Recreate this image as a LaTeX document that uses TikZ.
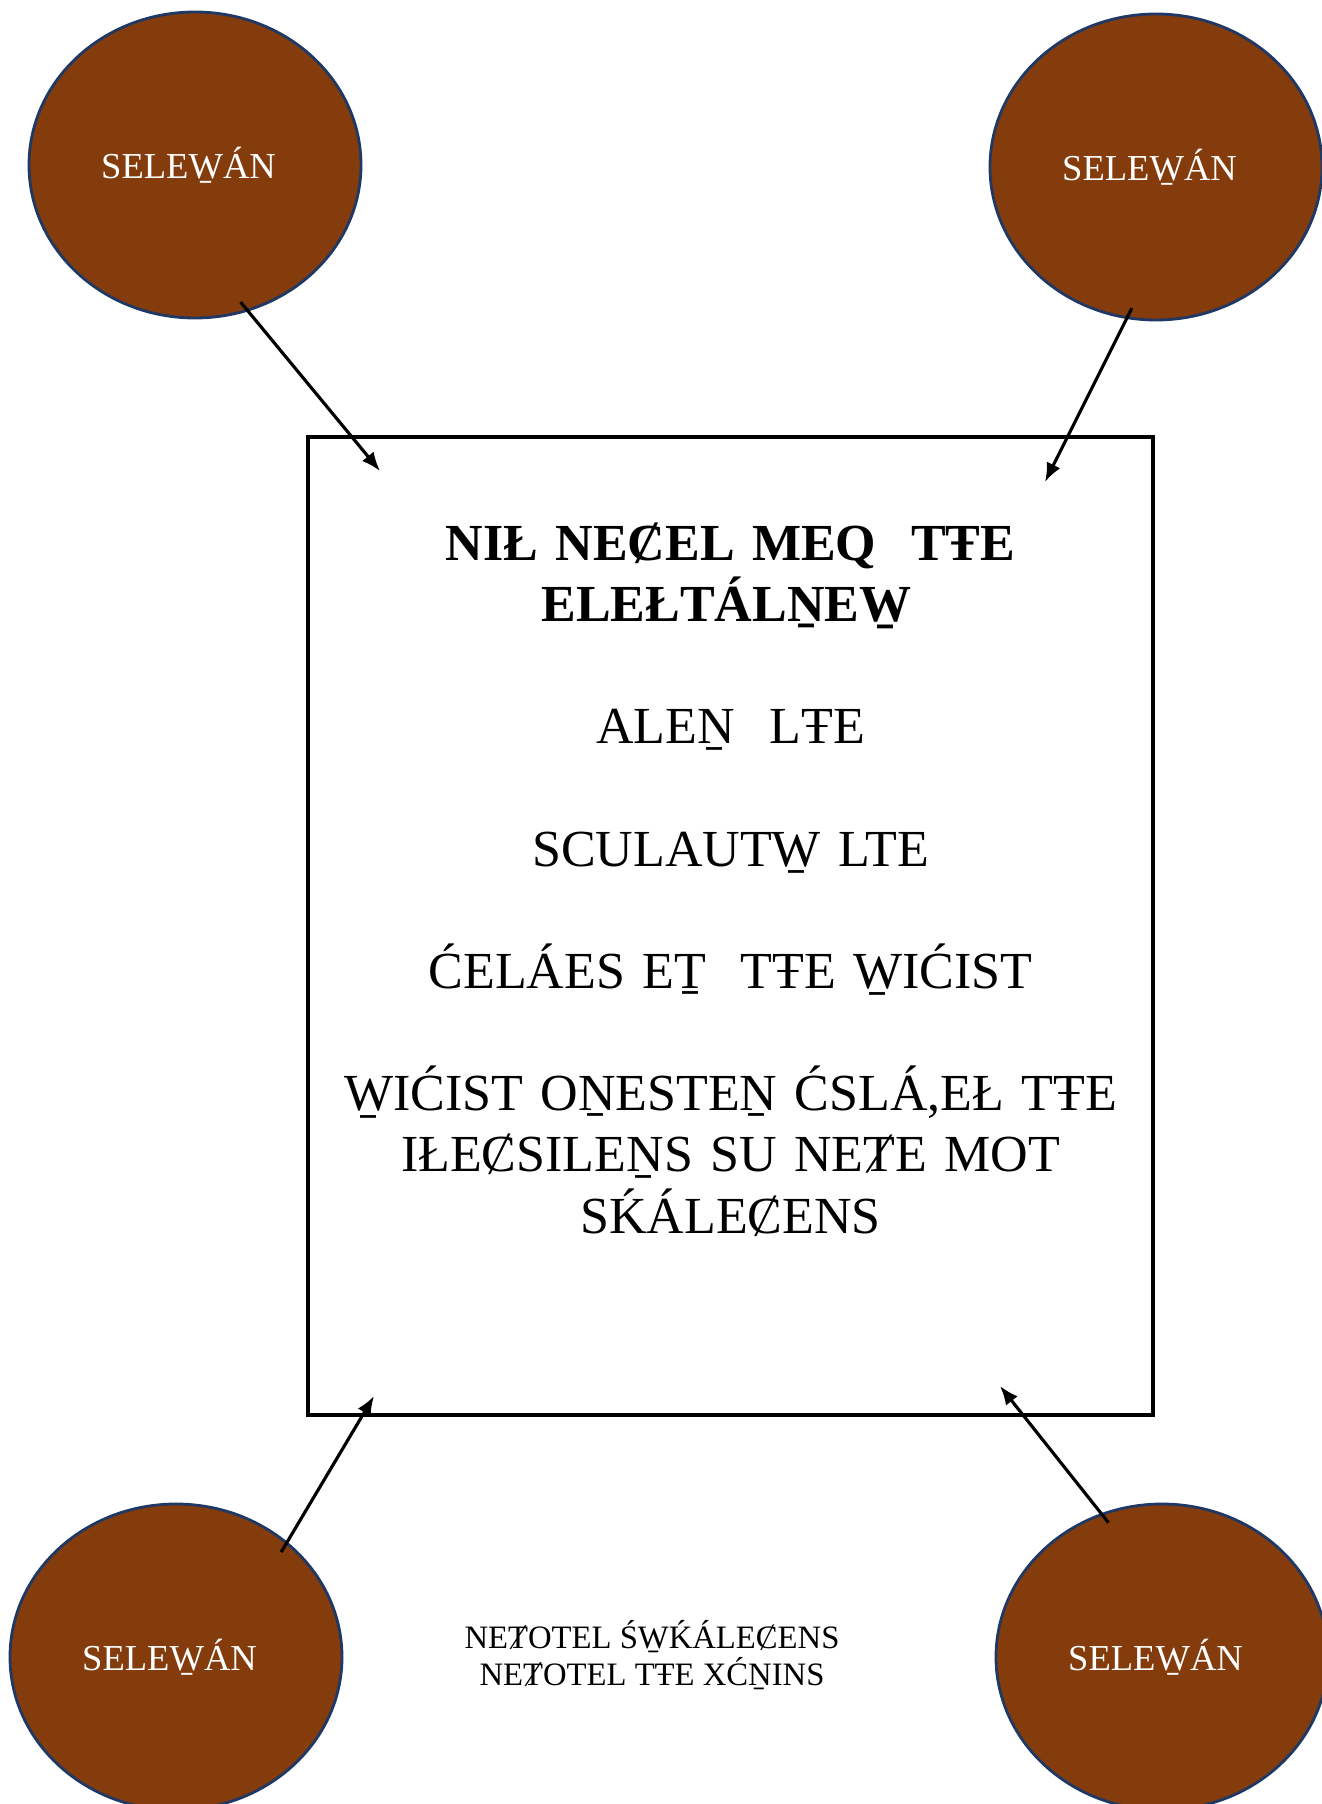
\documentclass[tikz,border=0pt]{standalone}
\usepackage{fontspec}
\setmainfont{Liberation Serif}
\usetikzlibrary{shapes.geometric,arrows.meta,positioning,calc}
\definecolor{selbrown}{HTML}{843C0C}
\definecolor{selnavy}{HTML}{1F3864}
\newcommand{\selname}{SELEW̠ÁN\hspace*{1.3mm}}

\begin{document}
\begin{tikzpicture}[sel/.style={ellipse,draw=selnavy,line width=0.8pt,fill=selbrown,text=white,inner sep=0pt,minimum width=3.32cm,minimum height=3.06cm,font=\fontsize{10.4}{12.6}\selectfont},
board/.style={draw,line width=1.1pt,minimum width=8.45cm,minimum height=9.78cm,inner sep=0pt},
arr/.style={-{Latex[length=1.9mm,width=1.5mm]},line width=0.9pt,shorten <=-1.2mm}]
\useasboundingbox (0,0) rectangle (13.22,-18.04);
\node[sel] (tl) at (1.95,-1.65) {\selname};
\node[sel] (tr) at (11.56,-1.67) {\selname};
\node[sel] (bl) at (1.76,-16.57) {\selname};
\node[sel] (br) at (11.62,-16.57) {\selname};
\node[board] (box) at (7.305,-9.26) {};
\node[below=0.87cm of box.north,text width=8.2cm,align=center,inner sep=0pt,font=\fontsize{14.8}{17.4}\selectfont] (txt)
{\textbf{NIŁ NEȻEL MEQ\ \ TŦE\\ ELEŁTÁLN̠EW̠}\\[17.4pt]
ALEN̠\ \ LŦE\\[17.4pt]
SCULAUTW̠ LTE\\[17.4pt]
ĆELÁES ET̠\ \ TŦE W̠IĆIST\\[17.4pt]
W̠IĆIST ON̠ESTEN̠ ĆSLÁ,EŁ TŦE\\ IŁEȻSILEN̠S SU NEȾE MOT\\ SḰÁLEȻENS};
\node[align=center,inner sep=0pt,font=\fontsize{9.3}{10.6}\selectfont] (cap) at (6.52,-16.55)
{NEȾOTEL ŚW̠ḰÁLEȻENS\\ NEȾOTEL TŦE XĆN̠INS};
\coordinate (p1) at ($(box.north west)+(0.74,-0.36)$);
\coordinate (p2) at ($(box.north east)+(-1.10,-0.47)$);
\coordinate (p3) at ($(box.south west)+(0.68,0.21)$);
\coordinate (p4) at ($(box.south east)+(-1.55,0.31)$);
\path[arr]
(tl.-70) edge (p1)
(tr.-101) edge (p2)
(bl.46) edge (p3)
(br.113) edge (p4)
;
\end{tikzpicture}
\end{document}
